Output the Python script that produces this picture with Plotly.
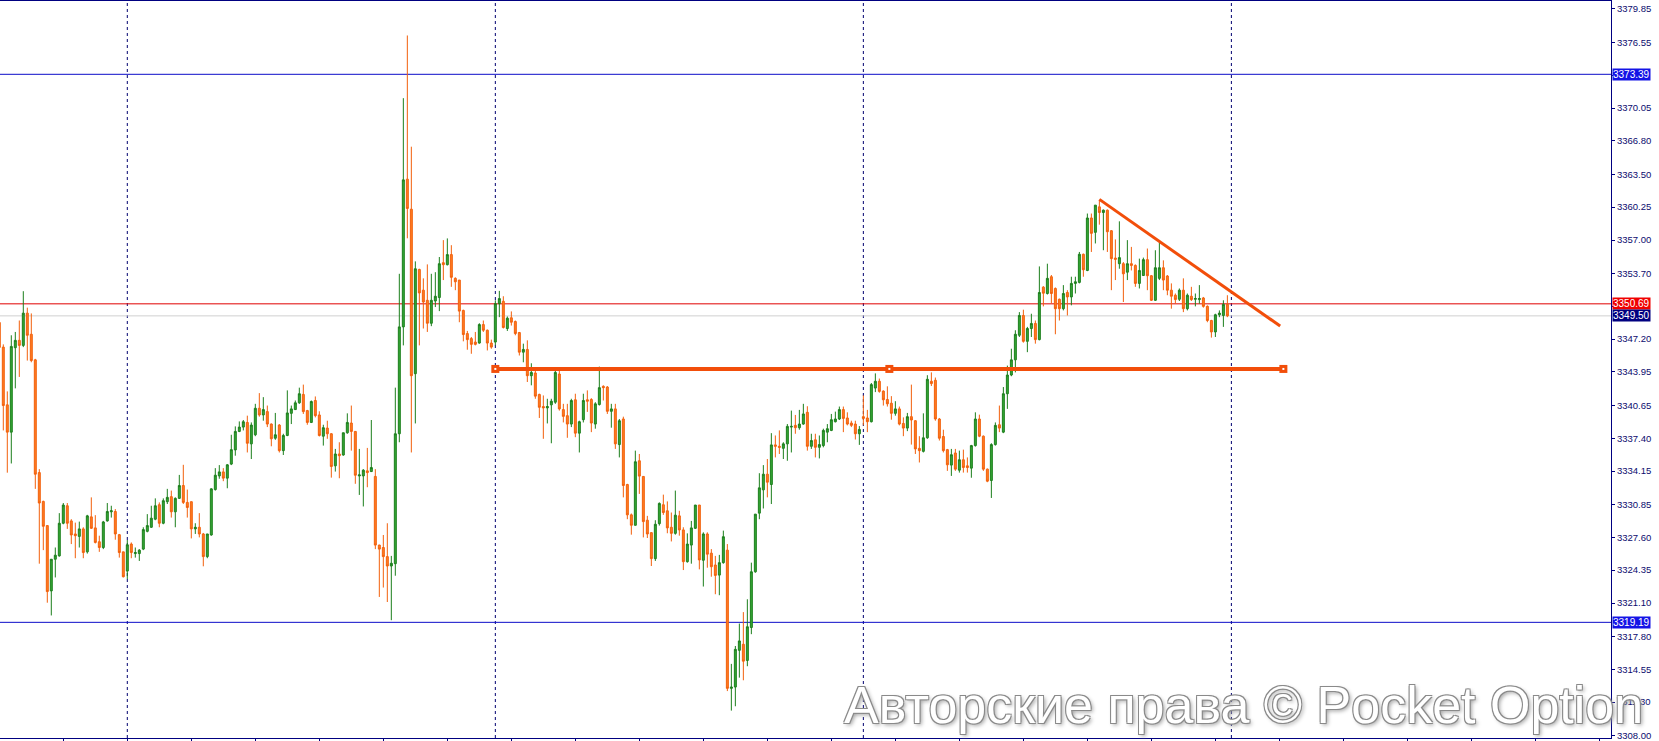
import plotly.graph_objects as go

# ---------------- data ----------------
open_ = [3348.84,3346.41,3340.70,3338.00,3346.35,3347.08,3346.58,3349.77,3347.68,3345.15,
 3334.00,3331.15,3328.76,3322.30,3325.43,3325.76,3328.99,3330.72,3329.22,3327.93,
 3327.69,3328.43,3326.16,3329.62,3328.53,3327.16,3326.59,3329.22,3330.12,3330.15,
 3327.86,3326.16,3324.26,3326.93,3325.99,3325.99,3326.43,3328.19,3328.59,3329.39,
 3330.82,3328.99,3331.12,3331.62,3330.12,3331.45,3332.72,3331.05,3331.12,3328.43,
 3328.59,3327.93,3325.69,3327.83,3332.32,3333.67,3334.07,3333.45,3334.84,3336.24,
 3338.07,3338.50,3338.96,3336.84,3337.74,3340.36,3339.70,3340.03,3338.80,3337.40,
 3338.70,3336.17,3337.67,3339.86,3340.23,3340.90,3341.73,3340.13,3338.96,3341.13,
 3339.70,3337.60,3338.40,3337.84,3334.67,3335.84,3335.74,3337.94,3338.90,3338.07,
 3333.67,3333.67,3334.17,3334.10,3333.62,3326.83,3326.59,3325.69,3324.76,3324.99,
 3337.84,3348.41,3363.02,3360.05,3343.78,3354.09,3352.04,3351.04,3348.77,3350.97,
 3351.31,3354.76,3354.56,3355.56,3353.21,3353.04,3350.04,3347.75,3347.25,3346.91,
 3346.81,3348.64,3348.08,3346.81,3346.91,3350.71,3350.94,3348.25,3349.31,3348.94,
 3347.85,3345.91,3346.18,3343.58,3343.85,3341.73,3340.53,3340.40,3340.70,3340.96,
 3343.75,3340.23,3339.63,3338.80,3341.20,3337.90,3339.23,3341.20,3341.23,3338.80,
 3340.73,3342.53,3342.46,3340.06,3340.30,3336.77,3339.30,3332.82,3329.82,3328.79,
 3335.17,3333.62,3329.29,3328.06,3325.49,3328.95,3330.82,3330.22,3328.59,3327.99,
 3329.72,3328.33,3325.19,3326.83,3328.49,3330.79,3325.33,3327.93,3326.03,3324.86,
 3323.86,3325.09,3326.33,3312.66,3312.79,3316.42,3317.02,3315.42,3318.68,3324.19,
 3329.99,3332.29,3333.84,3332.82,3336.74,3336.60,3336.40,3336.84,3338.50,3338.67,
 3338.44,3338.80,3339.96,3336.60,3337.24,3336.50,3336.67,3338.00,3338.17,3339.03,
 3339.30,3340.23,3339.40,3338.90,3338.80,3337.84,3339.53,3339.40,3339.03,3342.36,
 3343.03,3342.06,3341.23,3340.86,3339.86,3340.30,3338.86,3338.40,3339.53,3339.13,
 3336.40,3336.10,3337.44,3343.03,3343.13,3339.30,3337.57,3336.27,3334.74,3335.94,
 3334.24,3335.27,3334.67,3334.44,3336.67,3339.30,3337.60,3334.34,3333.22,3336.77,
 3338.73,3338.00,3341.80,3343.65,3345.15,3347.58,3349.54,3346.98,3348.25,3348.75,
 3347.15,3352.34,3351.71,3353.37,3352.21,3351.14,3350.21,3351.81,3351.37,3352.71,
 3352.81,3355.59,3353.99,3359.18,3357.76,3360.28,3359.72,3359.95,3357.92,3355.22,
 3354.66,3354.66,3353.82,3354.66,3354.49,3352.71,3353.49,3355.06,3353.47,3351.04,
 3353.21,3354.26,3353.44,3352.04,3351.54,3351.14,3352.04,3350.21,3351.44,3351.14,
 3351.11,3351.27,3350.44,3349.04,3347.91,3349.61,3349.54,3350.64]

high = [3349.24,3346.68,3342.03,3347.58,3347.91,3349.04,3351.94,3350.31,3349.74,3345.25,
 3334.34,3331.22,3328.76,3325.43,3326.59,3329.99,3330.99,3330.99,3329.39,3329.05,
 3329.15,3328.59,3329.82,3331.55,3329.79,3327.76,3329.22,3330.99,3330.72,3330.39,
 3327.93,3326.16,3327.33,3327.09,3326.59,3326.43,3328.59,3329.89,3330.72,3331.45,
 3331.05,3331.45,3332.39,3332.22,3331.55,3333.77,3334.77,3332.32,3331.12,3328.99,
 3329.99,3328.03,3327.93,3332.45,3334.44,3334.74,3334.44,3334.84,3337.74,3338.57,
 3339.06,3339.20,3339.63,3338.96,3340.80,3341.86,3341.46,3340.63,3338.86,3339.90,
 3338.80,3337.84,3342.13,3340.63,3341.13,3342.40,3342.70,3340.20,3341.13,3341.53,
 3340.06,3338.73,3339.13,3337.90,3336.34,3337.00,3337.94,3339.86,3340.63,3338.10,
 3336.34,3334.34,3336.44,3339.20,3334.34,3326.86,3327.83,3328.99,3325.76,3342.40,
 3353.66,3371.03,3377.23,3366.23,3354.89,3354.16,3353.21,3354.59,3353.66,3353.82,
 3355.32,3356.99,3357.16,3356.49,3353.31,3353.04,3350.11,3348.01,3347.41,3347.91,
 3348.77,3349.04,3348.15,3347.15,3351.04,3351.97,3351.44,3349.44,3349.94,3349.04,
 3347.91,3346.75,3347.08,3344.81,3344.41,3341.80,3341.63,3341.30,3341.30,3344.25,
 3344.15,3340.80,3340.80,3341.30,3341.80,3339.13,3341.80,3342.13,3341.36,3340.96,
 3344.48,3342.63,3342.56,3340.80,3340.80,3339.30,3339.53,3332.89,3329.95,3336.17,
 3335.84,3333.65,3329.72,3328.09,3329.29,3331.05,3331.82,3331.15,3330.05,3332.22,
 3330.22,3328.59,3327.99,3329.22,3330.79,3330.79,3328.09,3328.09,3326.43,3325.76,
 3325.86,3328.26,3326.93,3315.08,3316.85,3319.07,3320.20,3321.47,3325.09,3329.89,
 3333.94,3334.74,3335.34,3337.90,3337.67,3338.17,3337.00,3338.80,3340.13,3339.70,
 3340.20,3340.80,3340.56,3337.84,3337.84,3337.67,3338.34,3338.80,3339.80,3340.03,
 3340.53,3340.53,3339.96,3339.13,3339.13,3338.60,3341.63,3340.20,3342.86,3343.81,
 3343.30,3342.13,3342.53,3341.56,3341.06,3340.53,3339.46,3339.90,3342.70,3339.20,
 3337.60,3339.86,3343.63,3343.91,3343.40,3339.40,3338.24,3336.34,3336.34,3336.34,
 3336.17,3336.27,3335.50,3336.74,3339.96,3339.73,3337.67,3334.40,3336.90,3338.96,
 3340.63,3342.46,3344.58,3346.25,3348.08,3349.87,3350.11,3348.41,3349.71,3349.04,
 3354.39,3352.44,3354.66,3353.54,3352.31,3351.21,3352.54,3352.04,3353.37,3353.37,
 3355.82,3355.66,3359.62,3359.62,3360.45,3360.95,3360.02,3360.02,3357.99,3357.06,
 3358.85,3354.82,3356.99,3356.32,3354.59,3355.16,3355.26,3356.16,3353.54,3355.99,
 3356.82,3354.99,3353.54,3352.71,3351.71,3352.21,3353.21,3351.71,3352.37,3351.71,
 3352.54,3351.37,3350.54,3349.11,3349.71,3350.04,3351.04,3351.54]

low = [3345.88,3338.17,3333.99,3334.90,3342.33,3343.46,3346.41,3345.08,3344.91,3332.39,
 3324.99,3326.33,3321.13,3319.87,3323.63,3325.69,3328.89,3328.43,3326.93,3325.53,
 3326.59,3325.53,3325.99,3328.43,3326.99,3326.16,3326.43,3329.15,3329.55,3327.36,
 3325.59,3323.63,3323.47,3325.53,3325.59,3325.26,3326.33,3328.09,3328.53,3329.29,
 3328.59,3328.89,3330.89,3329.55,3328.59,3331.39,3330.89,3329.55,3327.49,3327.93,
 3327.59,3324.73,3325.53,3327.76,3332.22,3333.39,3333.15,3332.45,3334.74,3335.67,
 3338.00,3338.17,3335.99,3335.34,3337.60,3339.53,3339.13,3338.50,3336.60,3337.24,
 3335.99,3335.74,3337.60,3338.80,3340.20,3340.80,3339.80,3338.73,3338.90,3339.46,
 3337.57,3336.67,3337.34,3333.50,3334.10,3333.44,3335.67,3337.84,3336.17,3332.89,
 3331.79,3330.65,3332.55,3334.07,3326.43,3321.70,3322.63,3321.20,3319.40,3323.80,
 3337.00,3346.58,3357.17,3335.99,3338.86,3346.58,3348.25,3347.91,3348.48,3350.37,
 3349.97,3353.04,3354.49,3352.37,3352.04,3348.87,3346.98,3346.15,3345.75,3346.58,
 3346.75,3347.91,3346.08,3346.25,3346.58,3349.37,3348.25,3348.01,3348.54,3347.58,
 3345.58,3344.91,3342.96,3342.63,3341.30,3339.40,3337.34,3338.86,3336.90,3340.80,
 3340.13,3338.96,3337.44,3338.50,3337.50,3335.99,3338.96,3340.00,3338.00,3338.34,
 3340.63,3341.13,3339.80,3338.44,3336.34,3335.50,3331.55,3329.39,3327.86,3328.76,
 3331.89,3327.59,3327.53,3324.76,3325.26,3328.76,3329.82,3328.00,3327.19,3327.86,
 3327.76,3324.36,3325.09,3324.99,3328.43,3324.43,3322.73,3324.59,3323.70,3321.97,
 3321.87,3324.99,3312.39,3310.46,3310.89,3313.72,3313.46,3314.85,3318.02,3324.09,
 3329.39,3330.45,3331.55,3330.89,3335.50,3335.84,3335.34,3335.17,3335.99,3337.84,
 3338.24,3338.73,3336.17,3336.34,3335.50,3335.40,3336.50,3337.00,3338.10,3338.96,
 3339.20,3338.00,3338.67,3338.50,3337.27,3336.74,3338.67,3338.00,3338.96,3341.96,
 3341.90,3340.63,3340.53,3339.23,3339.63,3338.67,3337.60,3338.10,3336.77,3335.84,
 3335.00,3335.99,3337.34,3342.56,3339.13,3337.17,3335.99,3334.17,3333.67,3334.17,
 3334.00,3334.00,3334.00,3333.49,3336.57,3337.50,3334.17,3333.05,3331.49,3336.67,
 3338.00,3337.90,3340.30,3343.53,3343.91,3347.41,3346.85,3345.91,3347.41,3346.75,
 3347.08,3350.44,3351.61,3350.74,3347.68,3349.04,3350.04,3349.54,3350.54,3351.71,
 3352.71,3353.37,3353.92,3355.82,3356.66,3358.52,3355.99,3355.82,3352.04,3353.04,
 3354.16,3350.87,3353.04,3353.99,3352.37,3352.21,3353.46,3352.04,3350.97,3350.97,
 3353.04,3352.04,3351.54,3350.21,3350.71,3350.97,3349.87,3350.04,3350.97,3350.44,
 3350.71,3350.31,3348.87,3347.35,3347.41,3349.37,3348.41,3349.37]

close = [3346.38,3340.63,3338.00,3346.48,3347.08,3346.58,3349.77,3347.58,3345.08,3333.84,
 3330.99,3328.69,3322.23,3325.43,3325.83,3328.99,3330.79,3328.99,3327.83,3327.76,
 3328.43,3326.09,3329.72,3328.49,3327.09,3326.59,3329.12,3330.15,3330.22,3327.93,
 3326.09,3323.70,3326.86,3326.09,3326.09,3326.33,3328.36,3328.76,3329.49,3330.72,
 3328.99,3331.22,3331.55,3330.12,3331.45,3332.72,3331.05,3330.55,3328.43,3328.59,
 3327.93,3325.69,3327.93,3332.39,3333.74,3334.07,3333.45,3334.77,3336.27,3338.07,
 3338.50,3339.03,3336.90,3338.70,3340.36,3339.70,3340.23,3338.80,3337.34,3337.74,
 3336.17,3337.67,3339.90,3340.30,3340.90,3341.80,3340.03,3338.96,3341.03,3339.63,
 3337.67,3338.44,3337.84,3334.60,3335.84,3335.67,3337.94,3338.96,3338.07,3333.74,
 3333.77,3334.24,3334.00,3334.50,3326.83,3326.43,3325.69,3324.76,3325.03,3337.84,
 3348.41,3362.95,3360.12,3343.58,3354.16,3351.77,3350.87,3348.77,3351.04,3351.44,
 3354.66,3354.56,3355.56,3353.31,3352.87,3349.97,3347.65,3347.15,3346.68,3346.68,
 3348.64,3348.08,3346.81,3346.41,3350.71,3351.21,3348.35,3349.27,3348.87,3347.75,
 3345.91,3346.18,3343.58,3343.91,3341.56,3340.46,3340.40,3340.53,3341.06,3343.91,
 3340.30,3339.56,3338.80,3341.13,3337.90,3339.03,3341.13,3341.06,3338.90,3340.80,
 3342.40,3342.40,3340.06,3340.30,3336.84,3339.13,3332.72,3329.82,3328.79,3335.07,
 3333.65,3329.15,3327.93,3325.49,3328.89,3330.95,3330.05,3328.53,3327.99,3329.79,
 3328.33,3325.19,3326.93,3328.53,3330.79,3325.36,3327.93,3325.93,3324.69,3323.83,
 3325.09,3327.66,3312.66,3312.79,3316.52,3317.35,3315.35,3318.75,3324.19,3329.89,
 3332.49,3333.84,3333.05,3336.74,3336.60,3336.50,3336.84,3338.57,3338.57,3338.44,
 3338.80,3339.80,3336.60,3337.17,3336.50,3336.77,3338.17,3338.34,3339.23,3339.30,
 3340.23,3339.36,3338.80,3338.67,3337.84,3338.27,3339.36,3339.03,3342.70,3343.03,
 3342.03,3341.20,3340.80,3339.86,3340.30,3338.80,3338.40,3339.53,3339.20,3336.34,
 3336.17,3337.44,3343.23,3342.80,3339.30,3337.40,3336.17,3334.77,3335.77,3334.34,
 3335.27,3334.50,3334.50,3336.67,3339.30,3337.60,3334.34,3333.15,3336.77,3338.67,
 3338.40,3341.80,3343.65,3345.15,3347.68,3349.54,3346.98,3348.25,3348.75,3347.15,
 3351.81,3351.74,3353.21,3351.71,3350.21,3350.21,3351.71,3351.37,3352.71,3352.87,
 3355.59,3354.06,3359.18,3357.66,3360.45,3359.72,3359.95,3357.82,3355.16,3355.09,
 3355.26,3353.66,3354.66,3354.49,3352.71,3353.99,3355.06,3353.47,3351.04,3354.26,
 3354.26,3353.04,3352.04,3351.44,3351.11,3352.04,3350.21,3351.54,3351.11,3351.21,
 3351.21,3350.44,3349.04,3347.91,3349.61,3349.77,3350.64,3349.50]

bar_index = list(range(len(close)))

# price levels / drawn objects
blue_levels = [3373.39, 3319.19]
ask_level = 3350.69
bid_level = 3349.50
separators = [32, 124, 216, 308]
level_x = [124, 222.5, 321]
level_y = [3344.25, 3344.25, 3344.25]
trend_x = [275, 320.2]
trend_y = [3361.02, 3348.49]

ytick_vals = [3379.85, 3376.55, 3373.30, 3370.05, 3366.80, 3363.50, 3360.25, 3357.00,
              3353.70, 3350.45, 3347.20, 3343.95, 3340.65, 3337.40, 3334.15, 3330.85,
              3327.60, 3324.35, 3321.10, 3317.80, 3314.55, 3311.30, 3308.00]
hidden_ticks = [3373.30, 3350.45]
xtick_vals = list(range(16, 401, 16))

watermark = "Авторские права © Pocket Option"

NAVY = "#0b0b6e"
ORANGE_LINE = "#f24e0a"

fig = go.Figure()
fig.add_trace(go.Candlestick(
    x=bar_index, open=open_, high=high, low=low, close=close,
    increasing=dict(line=dict(color="#1c7f1c", width=1), fillcolor="#36a836"),
    decreasing=dict(line=dict(color="#f2600c", width=1), fillcolor="#ff7d22"),
    whiskerwidth=0, showlegend=False, hoverinfo="skip"))

fig.add_trace(go.Scatter(x=level_x, y=level_y, mode="lines+markers",
                         line=dict(color=ORANGE_LINE, width=4),
                         marker=dict(symbol="square", size=8, color=ORANGE_LINE),
                         showlegend=False, hoverinfo="skip"))
fig.add_trace(go.Scatter(x=level_x, y=level_y, mode="markers",
                         marker=dict(symbol="square", size=2, color="white"),
                         showlegend=False, hoverinfo="skip"))
fig.add_trace(go.Scatter(x=trend_x, y=trend_y, mode="lines",
                         line=dict(color=ORANGE_LINE, width=3),
                         showlegend=False, hoverinfo="skip"))

shapes = []
for s in separators:
    shapes.append(dict(type="line", xref="x", yref="paper", x0=s, x1=s, y0=0, y1=1,
                       line=dict(color="#000070", width=1, dash="3px,3px"), layer="below"))
for lv in blue_levels:
    shapes.append(dict(type="line", xref="paper", yref="y", x0=0, x1=1, y0=lv, y1=lv,
                       line=dict(color="#0c0cc8", width=1), layer="below"))
shapes.append(dict(type="line", xref="paper", yref="y", x0=0, x1=1, y0=bid_level, y1=bid_level,
                   line=dict(color="#d0d0d0", width=1), layer="below"))
shapes.append(dict(type="line", xref="paper", yref="y", x0=0, x1=1, y0=ask_level, y1=ask_level,
                   line=dict(color="#e00000", width=1), layer="below"))

annotations = []
for val, bg in [(blue_levels[0], "#1414e6"), (blue_levels[1], "#1414e6"),
                (ask_level, "#f00000"), (bid_level, "#000080")]:
    annotations.append(dict(x=1, xref="paper", y=val, yref="y", xanchor="left", yanchor="middle",
                            xshift=1, text=f"{val:.2f}", showarrow=False, bgcolor=bg,
                            borderpad=0,
                            font=dict(family="Liberation Sans", size=10, color="white")))
annotations.append(dict(x=0.7716, xref="paper", y=0.045, yref="paper", xanchor="center",
                        yanchor="middle", text=watermark, showarrow=False,
                        font=dict(family="Liberation Sans", size=52, color="white",
                                  shadow="1px 1px 0 #8a8a8a, -1px -1px 0 #8a8a8a, 1px -1px 0 #8a8a8a, -1px 1px 0 #8a8a8a, 2px 2px 4px #9a9a9a")))

fig.update_layout(
    width=1659, height=741,
    margin=dict(l=0, r=48, t=1, b=3, autoexpand=False),
    paper_bgcolor="white", plot_bgcolor="white",
    shapes=shapes, annotations=annotations,
    xaxis=dict(range=[0.175, 402.9], rangeslider=dict(visible=False), showgrid=False,
               zeroline=False, showline=True, mirror=True, linecolor="#000080", linewidth=1,
               tickvals=xtick_vals, showticklabels=False, ticks="outside", ticklen=3,
               tickcolor="#000080"),
    yaxis=dict(range=[3307.75, 3380.64], side="right", showgrid=False, zeroline=False,
               showline=True, linecolor="#000080", linewidth=1,
               tickvals=ytick_vals,
               ticktext=["" if v in hidden_ticks else f"{v:.2f}" for v in ytick_vals],
               ticks="outside", ticklen=3, tickcolor="#000080",
               tickfont=dict(family="Liberation Sans", size=9.5, color=NAVY)),
    hovermode=False,
)

fig.write_html("out.html", config={"displayModeBar": False},
               post_script="document.body.style.margin='0';document.body.style.overflow='hidden';")
